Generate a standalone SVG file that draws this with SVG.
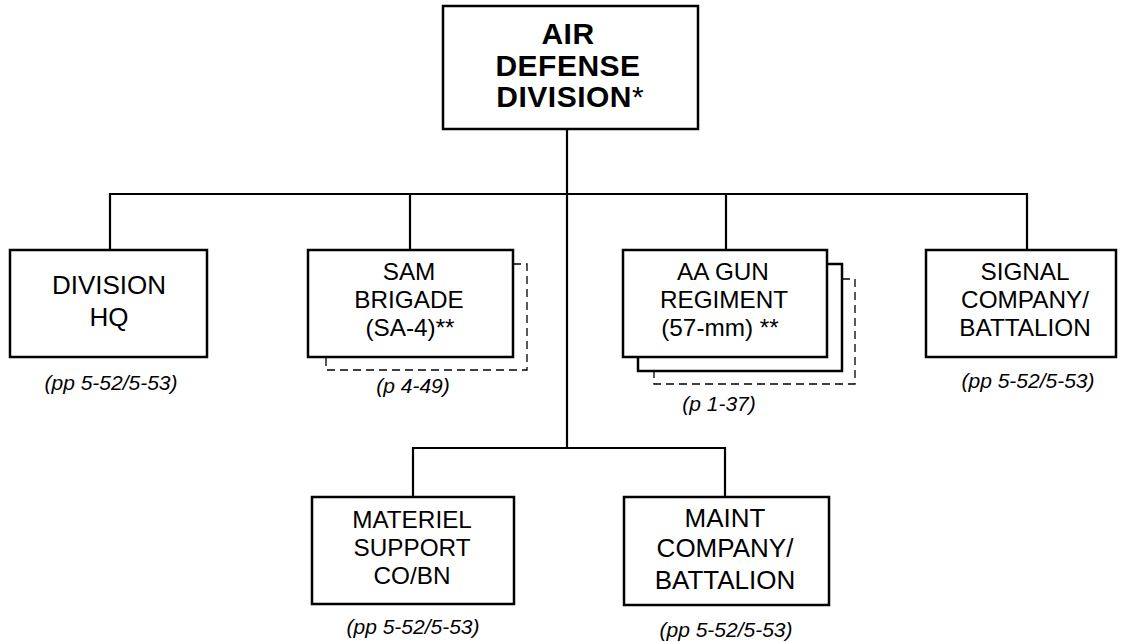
<svg xmlns="http://www.w3.org/2000/svg" width="1122" height="642" viewBox="0 0 1122 642">
<style>
.box{fill:#fff;stroke:#000;stroke-width:2.5}
.conn{fill:none;stroke:#000;stroke-width:2.2}
.dash{fill:none;stroke:#000;stroke-width:1.3;stroke-dasharray:8 5}
.t{font-family:"Liberation Sans",Arial,sans-serif;font-size:26px;text-anchor:middle;fill:#000}
.t3{font-family:"Liberation Sans",Arial,sans-serif;font-size:24.3px;text-anchor:middle;fill:#000}
.tb{font-family:"Liberation Sans",Arial,sans-serif;font-size:30px;font-weight:bold;letter-spacing:0.5px;text-anchor:middle;fill:#000}
.ref{font-family:"Liberation Sans",Arial,sans-serif;font-size:21px;font-style:italic;text-anchor:middle;fill:#000}
.ast{font-weight:normal;letter-spacing:0}
</style>
<g id="connectors">
<path class="conn" d="M567 129 V448"/>
<path class="conn" d="M110 250 V194 H1027 V250"/>
<path class="conn" d="M410 194 V250"/>
<path class="conn" d="M726 194 V250"/>
<path class="conn" d="M413 497 V448 H725 V497"/>
</g>
<g id="air-defense-division">
<rect class="box" x="443" y="6" width="255" height="123"/>
<text class="tb" x="568" y="44">AIR</text>
<text class="tb" x="568" y="76">DEFENSE</text>
<text class="tb" x="570" y="107">DIVISION<tspan class="ast">*</tspan></text>
</g>
<g id="division-hq">
<rect class="box" x="10" y="250" width="197" height="107"/>
<text class="t" x="109" y="294">DIVISION</text>
<text class="t" x="109" y="326">HQ</text>
<text class="ref" x="111" y="390">(pp 5-52/5-53)</text>
</g>
<g id="sam-brigade">
<path class="dash" d="M513 264 H527 V370 H326 V357"/>
<rect class="box" x="308" y="250" width="205" height="107"/>
<text class="t3" x="409" y="280">SAM</text>
<text class="t3" x="409" y="308">BRIGADE</text>
<text class="t3" x="410" y="336">(SA-4)**</text>
<text class="ref" x="413" y="393">(p 4-49)</text>
</g>
<g id="aa-gun-regiment">
<path class="dash" d="M842 279 H855 V384 H654 V371"/>
<rect class="box" x="638" y="264" width="204" height="107"/>
<rect class="box" x="623" y="250" width="204" height="107"/>
<text class="t3" x="723" y="280">AA GUN</text>
<text class="t3" x="724" y="308">REGIMENT</text>
<text class="t3" x="720" y="336">(57-mm) **</text>
<text class="ref" x="719" y="411">(p 1-37)</text>
</g>
<g id="signal-company">
<rect class="box" x="926" y="250" width="190" height="107"/>
<text class="t3" x="1025" y="280">SIGNAL</text>
<text class="t3" x="1025" y="308">COMPANY/</text>
<text class="t3" x="1025" y="336">BATTALION</text>
<text class="ref" x="1028" y="388">(pp 5-52/5-53)</text>
</g>
<g id="materiel-support">
<rect class="box" x="312" y="497" width="202" height="107"/>
<text class="t3" x="412" y="528">MATERIEL</text>
<text class="t3" x="412" y="556">SUPPORT</text>
<text class="t3" x="412" y="584">CO/BN</text>
<text class="ref" x="413" y="634">(pp 5-52/5-53)</text>
</g>
<g id="maint-company">
<rect class="box" x="624" y="497" width="205" height="108"/>
<text class="t" x="725" y="527">MAINT</text>
<text class="t" x="725" y="557">COMPANY/</text>
<text class="t" x="725" y="589">BATTALION</text>
<text class="ref" x="726" y="637">(pp 5-52/5-53)</text>
</g>
</svg>
